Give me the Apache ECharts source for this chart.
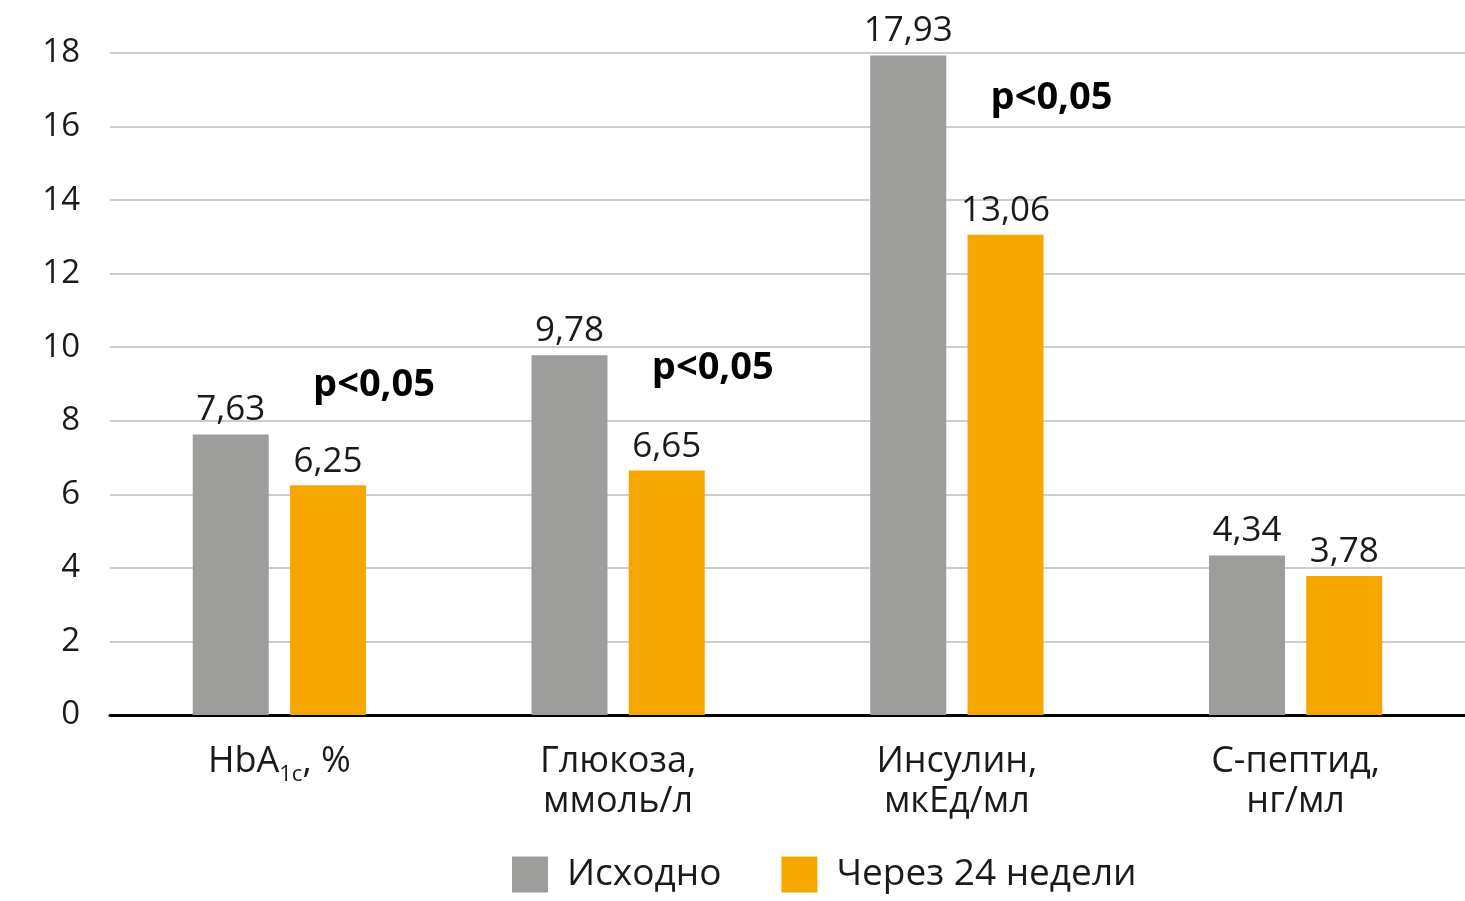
<!DOCTYPE html>
<html>
<head>
<meta charset="utf-8">
<script src="https://cdn.jsdelivr.net/npm/echarts@6/dist/echarts.min.js"></script>
<style>
  html, body { margin: 0; padding: 0; background: #fff; }
  #chart { width: 1465px; height: 901px; }
</style>
</head>
<body>
<div id="chart"></div>
<script>
// данные
var categories = ['HbA1c, %', 'Глюкоза,\nммоль/л', 'Инсулин,\nмкЕд/мл', 'С-пептид,\nнг/мл'];
var baseline = [7.63, 9.78, 17.93, 4.34];
var after24 = [6.25, 6.65, 13.06, 3.78];
var seriesNames = ['Исходно', 'Через 24 недели'];
var yTicks = [0, 2, 4, 6, 8, 10, 12, 14, 16, 18];
// подписи p<0,05: [индекс категории, уровень по оси]
var pLabels = [[0, 8.97], [1, 9.43], [2, 16.78]];

var FONT = '"Open Sans", "Noto Sans", sans-serif';
var chart = echarts.init(document.getElementById('chart'));

function comma(v) {
  return String(v.toFixed(2)).replace('.', ',');
}

var option = {
  animation: false,
  textStyle: { fontFamily: FONT },
  grid: { left: 110, right: 0, top: 53, bottom: 186, containLabel: false },
  legend: {
    left: 507,
    bottom: 3,
    itemWidth: 36,
    itemHeight: 36,
    itemGap: 60,
    icon: 'rect',
    textStyle: { fontSize: 37, color: '#1a1a1a', padding: [0, 0, 0, 14], fontFamily: FONT },
    data: seriesNames
  },
  xAxis: {
    type: 'category',
    data: categories,
    axisLine: { lineStyle: { color: '#000', width: 3 } },
    axisTick: { show: false },
    axisLabel: {
      interval: 0,
      margin: 27,
      color: '#1a1a1a',
      fontSize: 36,
      lineHeight: 40,
      formatter: function (v) {
        if (v.indexOf('HbA1c') === 0) return '{a|HbA}{s|1c}{a|, %}';
        return v;
      },
      rich: {
        a: { fontSize: 36, lineHeight: 40, color: '#1a1a1a', fontFamily: FONT },
        s: { fontSize: 22, lineHeight: 40, color: '#1a1a1a', padding: [26, 0, 0, 0], fontFamily: FONT }
      }
    }
  },
  yAxis: {
    type: 'value',
    min: yTicks[0],
    max: yTicks[yTicks.length - 1],
    interval: 2,
    axisLine: { show: false },
    axisTick: { show: false },
    splitLine: { lineStyle: { color: '#bdbdbd', width: 1.5 } },
    axisLabel: { color: '#1a1a1a', fontSize: 33, margin: 30 }
  },
  series: [
    {
      name: seriesNames[0],
      type: 'bar',
      data: baseline,
      barWidth: 76,
      barGap: '28%',
      itemStyle: { color: '#9d9d9c' },
      label: {
        show: true, position: 'top', distance: 7,
        color: '#1a1a1a', fontSize: 35, fontFamily: FONT,
        formatter: function (p) { return comma(p.value); }
      }
    },
    {
      name: seriesNames[1],
      type: 'bar',
      data: after24,
      barWidth: 76,
      barGap: '28%',
      itemStyle: { color: '#f5a700' },
      label: {
        show: true, position: 'top', distance: 6,
        color: '#1a1a1a', fontSize: 35, fontFamily: FONT,
        formatter: function (p) { return comma(p.value); }
      },
      markPoint: {
        symbol: 'rect',
        symbolSize: 0,
        label: {
          show: true,
          position: 'inside',
          offset: [46, 0],
          formatter: 'p<0,05',
          color: '#000',
          fontSize: 38,
          fontWeight: 'bold',
          fontFamily: FONT
        },
        data: pLabels.map(function (p) { return { coord: [p[0], p[1]], value: 0 }; })
      }
    }
  ]
};

chart.setOption(option);
</script>
</body>
</html>
